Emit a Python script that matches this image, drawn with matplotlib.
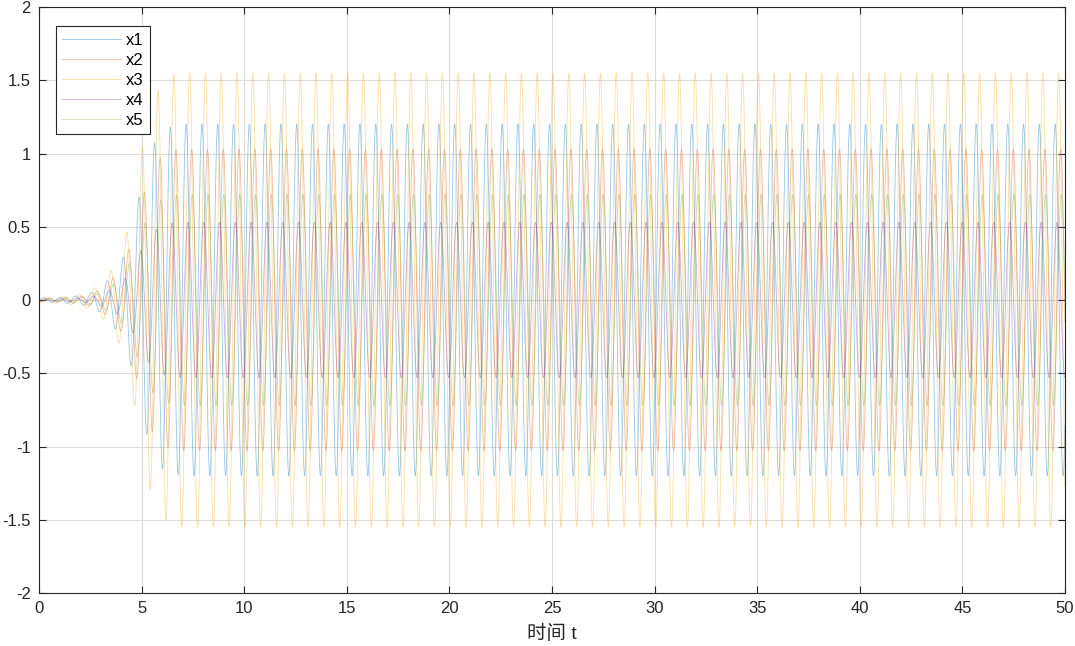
import numpy as np
import matplotlib
matplotlib.use('Agg')
import matplotlib.pyplot as plt

plt.rcParams['font.family'] = ['Liberation Sans', 'Noto Sans CJK SC']

# series
names = ['x1', 'x2', 'x3', 'x4', 'x5']
colors = ['#0072bd', '#d95319', '#edb120', '#7e2f8e', '#77ac30']
amplitudes = [1.20, 1.03, 1.55, 0.53, 0.72]        # steady-state peak height
peak_times = [22.57, 22.84, 22.74, 22.66, 22.87]   # one peak location of each series
period = 0.770

# growth of the oscillation (fraction of steady amplitude)
env_t = [0.0, 1.0, 2.0, 2.5, 3.0, 3.5, 4.0, 4.5, 5.0, 5.5, 6.0, 6.5, 7.0, 50.0]
env_f = [0.012, 0.015, 0.025, 0.04, 0.07, 0.13, 0.21, 0.38, 0.66, 0.87, 0.96, 0.99, 1.0, 1.0]

t = np.arange(0, 50.001, 0.01)
env = np.interp(t, env_t, env_f)

fig = plt.figure(figsize=(10.75, 6.46), dpi=100)
ax = fig.add_axes([39/1075, 1-593/646, 1026/1075, 586/646])

for name, c, a, tp in zip(names, colors, amplitudes, peak_times):
    y = a*env*np.cos(2*np.pi*(t-tp)/period)
    ax.plot(t, y, color=c, lw=0.6, alpha=0.4, label=name)

ax.set_xlim(0, 50)
ax.set_ylim(-2, 2)
ax.set_xticks(np.arange(0, 51, 5))
ax.set_yticks(np.arange(-2, 2.01, 0.5))
ax.set_yticklabels(['-2', '-1.5', '-1', '-0.5', '0', '0.5', '1', '1.5', '2'])
ax.grid(True, color='#dcdcdc', lw=0.8)
ax.set_axisbelow(True)
ax.tick_params(direction='in', length=5, width=0.8, top=True, right=True,
               labelsize=12, colors='#262626', pad=6)
for s in ax.spines.values():
    s.set_color('#262626')
    s.set_linewidth(0.8)
ax.set_xlabel('时间 t', fontsize=14, labelpad=6, color='#262626')

leg = ax.legend(loc='upper left', bbox_to_anchor=(0.0163, 0.9676), borderaxespad=0,
                fontsize=12, handlelength=3.5, handletextpad=0.3, labelspacing=0.3,
                borderpad=0.4, fancybox=False, framealpha=1, edgecolor='#262626')
leg.get_frame().set_linewidth(0.8)

plt.savefig('out.png', dpi=100)
